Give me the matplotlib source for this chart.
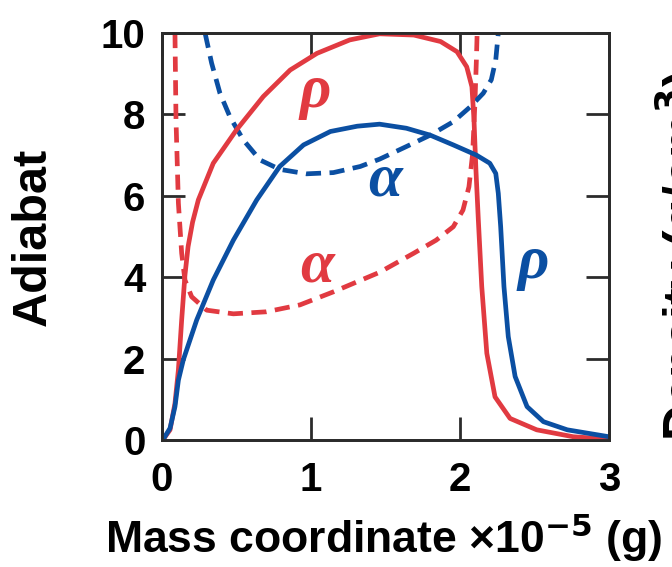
import numpy as np
import matplotlib.pyplot as plt

plt.rcParams['font.family'] = ['Liberation Sans', 'DejaVu Sans']
plt.rcParams['font.weight'] = 'bold'

RED = '#e13a41'
BLUE = '#0b4fa2'

# mass coordinate (x1e-5 g) and values
rho_red_x = [0.0, 0.009, 0.054, 0.087, 0.11, 0.132, 0.154, 0.175, 0.205, 0.244, 0.344, 0.50, 0.68, 0.86, 1.04, 1.26, 1.46,
             1.69, 1.87, 1.98, 2.045, 2.08, 2.094, 2.107, 2.123, 2.146, 2.18, 2.235, 2.336, 2.515, 2.76, 3.0]
rho_red_y = [0.0, 0.02, 0.25, 0.90, 1.72, 2.95, 4.05, 4.75, 5.35, 5.90, 6.80, 7.62, 8.44, 9.09, 9.50, 9.83, 9.98,
             9.95, 9.79, 9.54, 9.17, 8.68, 7.86, 6.63, 5.41, 3.77, 2.13, 1.06, 0.53, 0.25, 0.08, 0.02]

rho_blue_x = [0.0, 0.009, 0.054, 0.087, 0.11, 0.143, 0.233, 0.344, 0.479, 0.636, 0.79, 0.95, 1.13, 1.31, 1.46,
              1.64, 1.80, 1.955, 2.11, 2.20, 2.24, 2.257, 2.273, 2.295, 2.324, 2.37, 2.45, 2.56, 2.72, 3.0]
rho_blue_y = [0.0, 0.02, 0.29, 0.82, 1.47, 1.97, 2.95, 3.93, 4.91, 5.90, 6.72, 7.25, 7.58, 7.71, 7.76,
              7.66, 7.49, 7.25, 7.00, 6.80, 6.55, 6.06, 5.24, 3.77, 2.54, 1.56, 0.82, 0.45, 0.25, 0.08]

alpha_red_x = [0.087, 0.094, 0.11, 0.132, 0.154, 0.199, 0.30, 0.479, 0.70, 0.926, 1.15, 1.46,
               1.69, 1.84, 1.955, 2.02, 2.06, 2.085, 2.10, 2.11, 2.115]
alpha_red_y = [10.0, 7.86, 5.82, 4.59, 3.93, 3.52, 3.19, 3.10, 3.15, 3.32, 3.64, 4.12,
               4.59, 4.91, 5.24, 5.65, 6.22, 7.04, 8.27, 9.34, 10.0]

alpha_blue_x = [0.289, 0.333, 0.389, 0.456, 0.546, 0.658, 0.79, 0.97, 1.15, 1.33, 1.46,
                1.64, 1.80, 1.955, 2.07, 2.156, 2.21, 2.24, 2.257]
alpha_blue_y = [10.0, 9.26, 8.52, 7.94, 7.37, 6.88, 6.65, 6.54, 6.57, 6.72, 6.90,
                7.21, 7.49, 7.82, 8.19, 8.52, 8.85, 9.34, 10.0]

ticks_x = [0, 1, 2, 3]
ticks_y = [0, 2, 4, 6, 8, 10]

fig = plt.figure(figsize=(6.72, 5.67), dpi=100)
ax = fig.add_axes([162/672, 1 - 440/567, 447/672, 407/567])
ax2 = ax.twinx()

lw = 3.4
dash = (0, (3.2, 1.8))
ax.plot(alpha_red_x, alpha_red_y, color=RED, lw=lw, ls=dash)
ax.plot(alpha_blue_x, alpha_blue_y, color=BLUE, lw=lw, ls=dash)
ax2.plot(rho_red_x, rho_red_y, color=RED, lw=lw, solid_joinstyle='round')
ax2.plot(rho_blue_x, rho_blue_y, color=BLUE, lw=lw, solid_joinstyle='round')

for a in (ax, ax2):
    a.set_xlim(0, 3)
    a.set_ylim(0, 10)
    for s in a.spines.values():
        s.set_linewidth(2.0)
        s.set_color('#2b2b2b')

ax.set_xticks(ticks_x)
ax.set_yticks(ticks_y)
ax.tick_params(axis='both', direction='in', length=16.5, width=2.0, color='#2b2b2b',
               labelsize=29, top=True)
ax.tick_params(axis='x', pad=15)
ax.tick_params(axis='y', pad=12)
ax2.set_yticks(ticks_y)
ax2.tick_params(direction='in', length=16.5, width=2.0, color='#2b2b2b', labelright=False)

fig.text(33/672, 1 - 237/567, 'Adiabat', rotation=90, fontsize=35,
         fontweight='bold', ha='center', va='center')
fig.text(384/672, 1 - 553/567, 'Mass coordinate ×10$^{\\mathbf{-5}}$ (g)',
         fontsize=32, fontweight='bold', ha='center', va='baseline')
fig.text(653/672, 1 - 256/567, 'Density (g/cm$^{\\mathbf{3}}$)', rotation=90, fontsize=36,
         fontweight='bold', ha='left', va='center')

gk = dict(fontsize=44, style='italic', fontweight='bold', ha='center', va='center',
          family=['Liberation Serif', 'DejaVu Serif'])
ax.text(1.03, 8.56, 'ρ', color=RED, **gk)
ax.text(1.04, 4.26, 'α', color=RED, **gk)
ax.text(1.50, 6.38, 'α', color=BLUE, **gk)
ax.text(2.49, 4.34, 'ρ', color=BLUE, **gk)

fig.savefig('out.png', dpi=100)
